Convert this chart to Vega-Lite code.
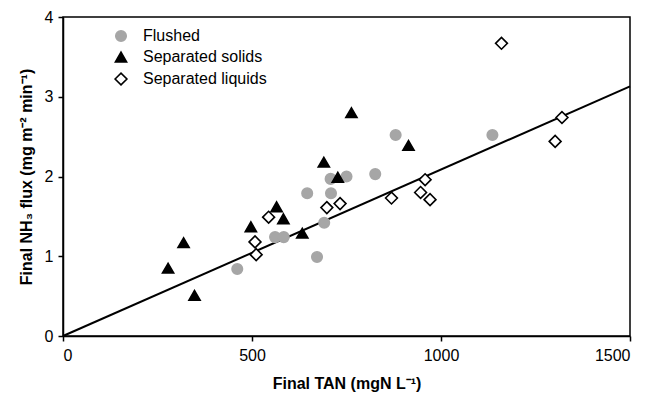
{
  "$schema": "https://vega.github.io/schema/vega-lite/v6.json",
  "width": 567,
  "height": 319,
  "autosize": {"type": "none"},
  "padding": {"left": 63, "top": 17, "right": 21, "bottom": 57},
  "background": "white",
  "config": {
    "view": {"stroke": "black", "strokeWidth": 1.5},
    "font": "Liberation Sans",
    "axis": {
      "grid": false,
      "domainColor": "black",
      "domainWidth": 1.5,
      "tickColor": "black",
      "tickWidth": 1.5,
      "tickSize": 5,
      "labelFont": "Liberation Sans",
      "labelFontSize": 16,
      "labelColor": "black",
      "titleFont": "Liberation Sans",
      "titleFontSize": 16,
      "titleFontWeight": "bold",
      "titleColor": "black"
    }
  },
  "datasets": {
    "pts": [
      {"tan": 461, "flux": 0.84, "group": "Flushed"},
      {"tan": 561, "flux": 1.24, "group": "Flushed"},
      {"tan": 584, "flux": 1.24, "group": "Flushed"},
      {"tan": 646, "flux": 1.79, "group": "Flushed"},
      {"tan": 672, "flux": 0.99, "group": "Flushed"},
      {"tan": 691, "flux": 1.42, "group": "Flushed"},
      {"tan": 708, "flux": 1.97, "group": "Flushed"},
      {"tan": 709, "flux": 1.79, "group": "Flushed"},
      {"tan": 750, "flux": 2.00, "group": "Flushed"},
      {"tan": 826, "flux": 2.03, "group": "Flushed"},
      {"tan": 880, "flux": 2.52, "group": "Flushed"},
      {"tan": 1136, "flux": 2.52, "group": "Flushed"},
      {"tan": 278, "flux": 0.85, "group": "Separated solids"},
      {"tan": 319, "flux": 1.17, "group": "Separated solids"},
      {"tan": 348, "flux": 0.51, "group": "Separated solids"},
      {"tan": 497, "flux": 1.37, "group": "Separated solids"},
      {"tan": 565, "flux": 1.62, "group": "Separated solids"},
      {"tan": 583, "flux": 1.47, "group": "Separated solids"},
      {"tan": 633, "flux": 1.29, "group": "Separated solids"},
      {"tan": 690, "flux": 2.18, "group": "Separated solids"},
      {"tan": 727, "flux": 1.99, "group": "Separated solids"},
      {"tan": 763, "flux": 2.80, "group": "Separated solids"},
      {"tan": 914, "flux": 2.39, "group": "Separated solids"},
      {"tan": 508, "flux": 1.18, "group": "Separated liquids"},
      {"tan": 511, "flux": 1.02, "group": "Separated liquids"},
      {"tan": 544, "flux": 1.49, "group": "Separated liquids"},
      {"tan": 698, "flux": 1.61, "group": "Separated liquids"},
      {"tan": 733, "flux": 1.66, "group": "Separated liquids"},
      {"tan": 869, "flux": 1.73, "group": "Separated liquids"},
      {"tan": 946, "flux": 1.80, "group": "Separated liquids"},
      {"tan": 958, "flux": 1.96, "group": "Separated liquids"},
      {"tan": 971, "flux": 1.71, "group": "Separated liquids"},
      {"tan": 1160, "flux": 3.67, "group": "Separated liquids"},
      {"tan": 1302, "flux": 2.44, "group": "Separated liquids"},
      {"tan": 1320, "flux": 2.74, "group": "Separated liquids"}
    ],
    "fit": [
      {"tan": 0, "flux": 0},
      {"tan": 1500, "flux": 3.13}
    ]
  },
  "layer": [
    {
      "data": {"name": "fit"},
      "mark": {"type": "line", "color": "black", "strokeWidth": 2},
      "encoding": {
        "x": {"field": "tan", "type": "quantitative"},
        "y": {"field": "flux", "type": "quantitative"}
      }
    },
    {
      "data": {"name": "pts"},
      "mark": {"type": "point", "filled": false, "opacity": 1, "strokeWidth": 1.6},
      "encoding": {
        "x": {
          "field": "tan", "type": "quantitative",
          "scale": {"domain": [0, 1500], "nice": false},
          "axis": {"values": [0, 500, 1000, 1500], "format": "d", "title": "Final TAN (mgN L⁻¹)", "labelPadding": 6, "titlePadding": 12}
        },
        "y": {
          "field": "flux", "type": "quantitative",
          "scale": {"domain": [0, 4], "nice": false},
          "axis": {"values": [0, 1, 2, 3, 4], "format": "d", "title": "Final NH₃ flux (mg m⁻² min⁻¹)", "labelPadding": 5, "titlePadding": 10}
        },
        "shape": {
          "field": "group", "type": "nominal",
          "scale": {"domain": ["Flushed", "Separated solids", "Separated liquids"], "range": ["circle", "triangle-up", "diamond"]},
          "legend": {
            "title": null, "orient": "none", "legendX": 50, "legendY": 11,
            "labelFontSize": 16, "labelFont": "Liberation Sans", "labelColor": "black",
            "rowPadding": 3, "labelOffset": 14, "symbolStrokeWidth": 1.6
          }
        },
        "fill": {
          "field": "group", "type": "nominal",
          "scale": {"domain": ["Flushed", "Separated solids", "Separated liquids"], "range": ["#a6a6a6", "black", "white"]}
        },
        "stroke": {
          "field": "group", "type": "nominal",
          "scale": {"domain": ["Flushed", "Separated solids", "Separated liquids"], "range": ["#a6a6a6", "black", "black"]}
        },
        "size": {
          "field": "group", "type": "nominal",
          "scale": {"domain": ["Flushed", "Separated solids", "Separated liquids"], "range": [110, 140, 120]}
        }
      }
    }
  ]
}
